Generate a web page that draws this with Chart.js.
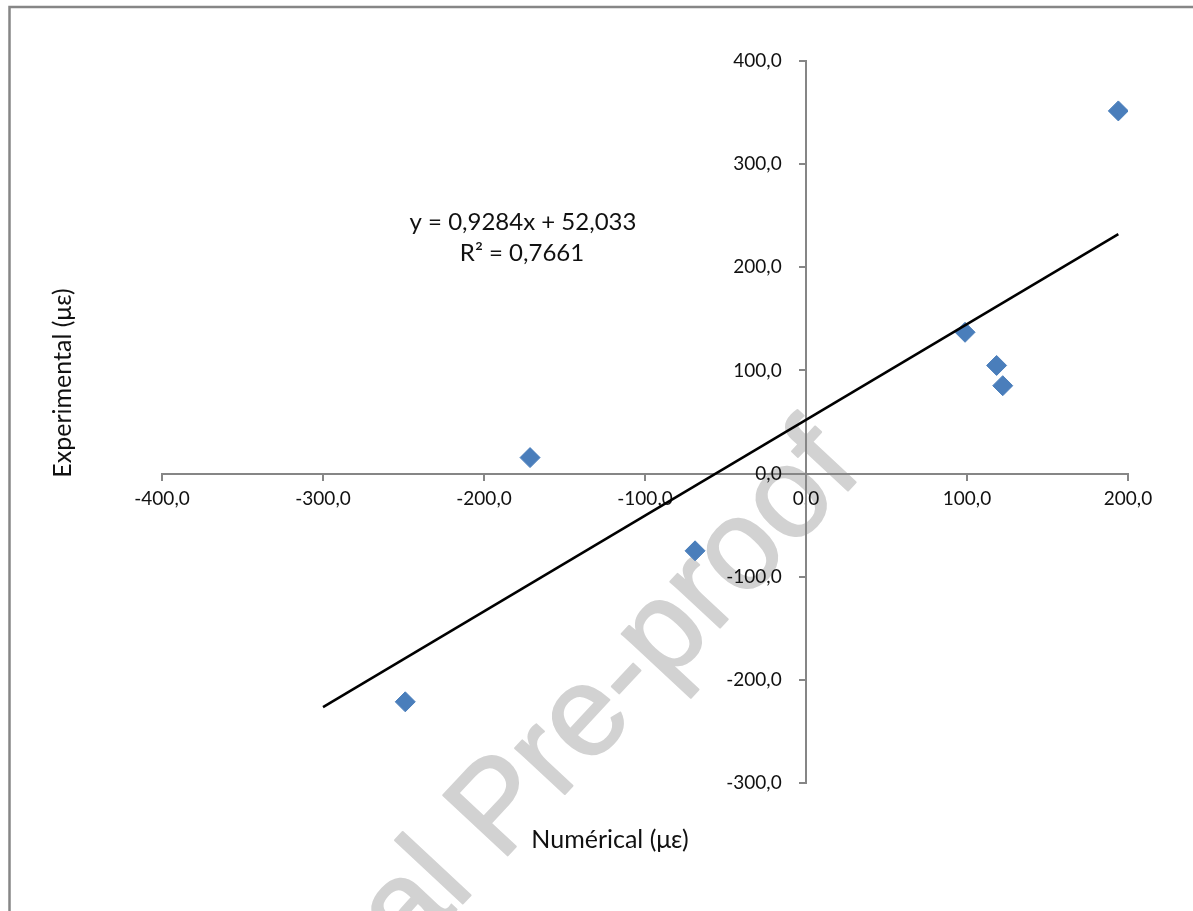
<!DOCTYPE html>
<html>
<head>
<meta charset="utf-8">
<script src="https://cdn.jsdelivr.net/npm/chart.js@4.4.0/dist/chart.umd.min.js"></script>
<style>
  body { margin: 0; background: #fff; }
  canvas { display: block; }
</style>
</head>
<body>
<canvas id="chart" width="1193" height="911"></canvas>
<script>
// Numerical vs experimental strain (με)
const numerical    = [194.0, 98.8, 118.4, 122.2, -171.4, -68.9, -248.9];
const experimental = [351.6, 137.0, 104.8, 85.2, 15.5, -74.9, -221.3];

// linear trendline end points (y = 0,9284x + 52,033)
const trendX = [-300, 194.0];
const trendY = [-226.5, 232.1];

const xRange = [-400, 200];
const yRange = [-300, 400];

const equationText = 'y = 0,9284x + 52,033';
const r2Text = 'R² = 0,7661';
const xTitle = 'Numérical (με)';
const yTitle = 'Experimental (με)';
const watermark = 'Journal Pre-proof';

const fmt = v => v.toFixed(1).replace('.', ',');
const axisGrey = '#868686';

// ========== TEXTES + CADRE ==========
const decorPlugin = {
    id: 'decor',
    afterDraw(chart) {
        const ctx = chart.ctx;
        ctx.save();

        // cadre gris (haut + gauche)
        ctx.strokeStyle = axisGrey;
        ctx.lineWidth = 2.5;
        ctx.beginPath();
        ctx.moveTo(9.5, 911);
        ctx.lineTo(9.5, 7);
        ctx.lineTo(1193, 7);
        ctx.stroke();

        ctx.fillStyle = '#111';
        ctx.textAlign = 'center';
        ctx.textBaseline = 'middle';

        ctx.font = '24px Lato';
        ctx.fillText(equationText, 523, 222);
        ctx.fillText(r2Text, 522, 253);

        ctx.font = '25px Lato';
        ctx.fillText(xTitle, 610, 840);

        ctx.save();
        ctx.translate(63, 383);
        ctx.rotate(-Math.PI / 2);
        ctx.fillText(yTitle, 0, 0);
        ctx.restore();

        // filigrane (darken: les traits noirs restent visibles)
        ctx.save();
        ctx.globalCompositeOperation = 'darken';
        ctx.translate(190, 1196);
        ctx.rotate(-47 * Math.PI / 180);
        ctx.font = '128px "Liberation Sans"';
        ctx.textAlign = 'left';
        ctx.textBaseline = 'alphabetic';
        ctx.fillStyle = '#d2d2d2';
        ctx.strokeStyle = '#d2d2d2';
        ctx.lineWidth = 2;
        ctx.lineJoin = 'round';
        ctx.fillText(watermark, 0, 0);
        ctx.strokeText(watermark, 0, 0);
        ctx.restore();

        ctx.restore();
    }
};

new Chart(document.getElementById('chart'), {
    type: 'scatter',
    data: {
        datasets: [
            {
                label: 'Trend',
                type: 'line',
                data: trendX.map((x, i) => ({ x: x, y: trendY[i] })),
                borderColor: '#000',
                borderWidth: 2.5,
                pointRadius: 0,
                fill: false,
                order: 0
            },
            {
                label: 'Experimental',
                data: numerical.map((x, i) => ({ x: x, y: experimental[i] })),
                pointStyle: 'rectRot',
                pointRadius: 10,
                backgroundColor: '#4A7EBB',
                borderColor: '#4A7EBB',
                borderWidth: 1,
                order: 1
            }
        ]
    },
    options: {
        responsive: false,
        animation: false,
        layout: {
            padding: { left: 162, right: 65, top: 61, bottom: 128 }
        },
        plugins: {
            legend: { display: false },
            tooltip: { enabled: false }
        },
        scales: {
            x: {
                type: 'linear',
                min: xRange[0],
                max: xRange[1],
                position: { y: 0 },
                afterFit: s => { s.height = 0; },
                grid: { drawOnChartArea: false, drawTicks: true, tickLength: 6, color: axisGrey, lineWidth: 2 },
                border: { color: axisGrey, width: 2 },
                ticks: {
                    stepSize: 100,
                    padding: 8,
                    color: '#111',
                    font: { family: 'Lato', size: 19 },
                    callback: v => fmt(v)
                }
            },
            y: {
                type: 'linear',
                min: yRange[0],
                max: yRange[1],
                position: { x: 0 },
                afterFit: s => { s.width = 0; },
                grid: { drawOnChartArea: false, drawTicks: true, tickLength: 6, color: axisGrey, lineWidth: 2 },
                border: { color: axisGrey, width: 2 },
                ticks: {
                    stepSize: 100,
                    color: '#111',
                    font: { family: 'Lato', size: 19 },
                    // trailing spaces keep the right-aligned labels clear of the axis
                    callback: v => fmt(v) + '     '
                }
            }
        }
    },
    plugins: [decorPlugin]
});
</script>
</body>
</html>
